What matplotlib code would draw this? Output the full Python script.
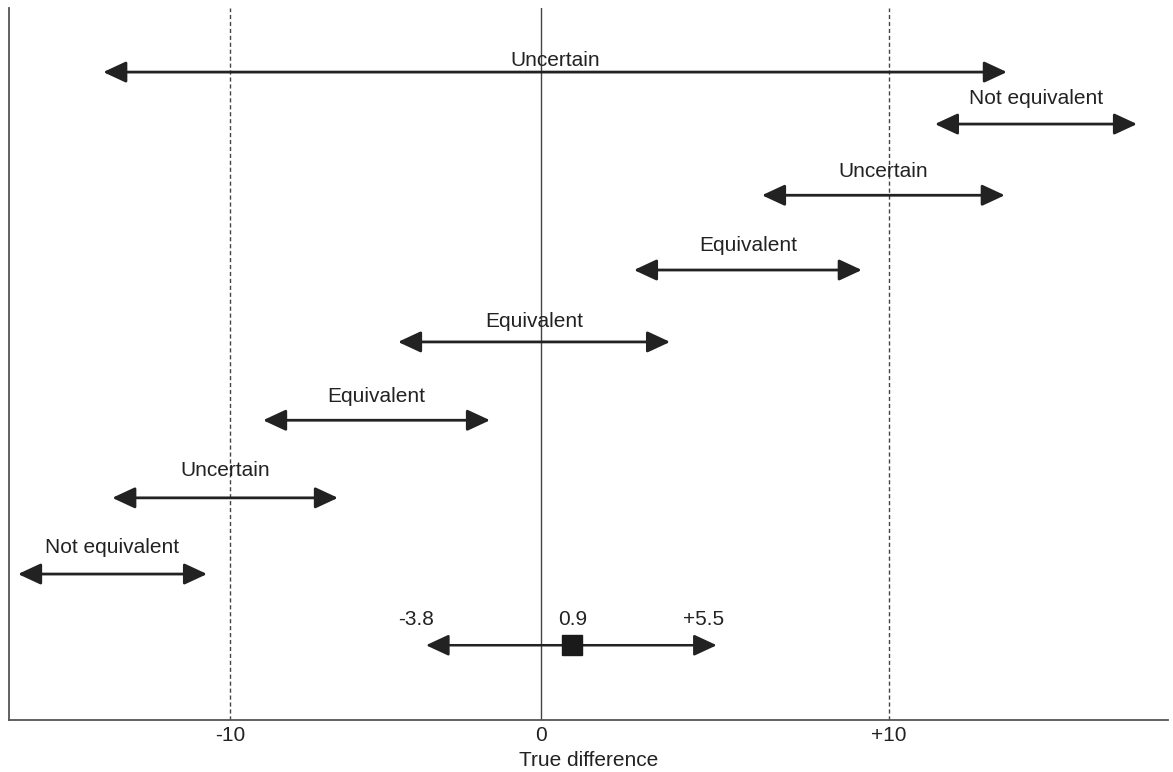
import matplotlib
matplotlib.use("Agg")
import matplotlib.pyplot as plt
import numpy as np

# ---- data ----
verdicts = ["Uncertain", "Not equivalent", "Uncertain", "Equivalent",
            "Equivalent", "Equivalent", "Uncertain", "Not equivalent"]
row_y = [9.1, 8.37, 7.37, 6.32, 5.31, 4.21, 3.12, 2.05]
ci_lows = [-14.08, 11.32, 6.35, 2.67, -4.60, -8.94, -13.79, -16.82]
ci_highs = [13.39, 17.13, 13.33, 9.22, 3.71, -1.64, -6.53, -10.74]

obs_y = 1.05
obs_low, obs_point, obs_high = -3.7, 0.9, 5.05
obs_labels = ["-3.8", "0.9", "+5.5"]

tick_values = [-10, 0, 10]
tick_labels = ["-10", "0", "+10"]
margin_lines = [-10, 10]
x_label = "True difference"

# ---- style ----
# the hand-drawn original is slightly stretched right of zero
RIGHT_STRETCH = 34.8 / 31.1


def fwd(x):
    x = np.asarray(x, dtype=float)
    return np.where(x < 0, x, x * RIGHT_STRETCH)


def inv(u):
    u = np.asarray(u, dtype=float)
    return np.where(u < 0, u, u / RIGHT_STRETCH)


plt.rcParams["font.family"] = ["Liberation Sans", "DejaVu Sans"]
W, H, DPI = 1173, 772, 100
fig = plt.figure(figsize=(W / DPI, H / DPI), dpi=DPI)
ax = fig.add_axes([9 / W, 52 / H, (1168 - 9) / W, 712 / H])
ax.set_xscale("function", functions=(fwd, inv))
ax.set_xlim(-17.11, 18.02)
ax.set_ylim(0, 10)

arrow_color = "#222222"
spine_color = "#555555"
astyle = "<|-|>,head_length=14,head_width=6.5"

for s in ["top", "right"]:
    ax.spines[s].set_visible(False)
for s in ["left", "bottom"]:
    ax.spines[s].set_color(spine_color)
    ax.spines[s].set_linewidth(1.3)

ax.axvline(0, color="#444444", lw=1.0, zorder=1)
for m in margin_lines:
    ax.axvline(m, color="#444444", lw=1.0, ls=(0, (3, 2)), zorder=1)

label_offsets = [12, 26, 24, 25, 20, 24, 27, 27]
for v, y, lo, hi, off in zip(verdicts, row_y, ci_lows, ci_highs, label_offsets):
    ax.annotate("", xy=(lo, y), xytext=(hi, y),
                arrowprops=dict(arrowstyle=astyle, color=arrow_color, lw=2.0,
                                shrinkA=0, shrinkB=0, mutation_scale=1))
    mid = float(inv((fwd(lo) + fwd(hi)) / 2))
    ax.annotate(v, xy=(mid, y), xytext=(0, off * 0.72),
                textcoords="offset points", ha="center", va="center",
                fontsize=15, color="#222222")

ax.annotate("", xy=(obs_low, obs_y), xytext=(obs_high, obs_y),
            arrowprops=dict(arrowstyle=astyle, color=arrow_color, lw=1.8,
                            shrinkA=0, shrinkB=0, mutation_scale=1))
ax.plot([obs_point], [obs_y], marker="s", markersize=14, color="#1a1a1a", zorder=5)
for xv, lab, dx in zip([obs_low, obs_point, obs_high], obs_labels, [-10, 0, -13]):
    ax.annotate(lab, xy=(xv, obs_y), xytext=(dx * 0.72, 26 * 0.72),
                textcoords="offset points", ha="center", va="center",
                fontsize=15, color="#222222")

ax.set_yticks([])
ax.set_xticks(tick_values)
ax.set_xticklabels(tick_labels, fontsize=15, color="#222222")
ax.xaxis.set_minor_locator(matplotlib.ticker.NullLocator())
ax.tick_params(axis="x", length=0, pad=4)
ax.set_xlabel(x_label, fontsize=15, color="#222222", labelpad=5)

fig.savefig("out.png", dpi=DPI)
